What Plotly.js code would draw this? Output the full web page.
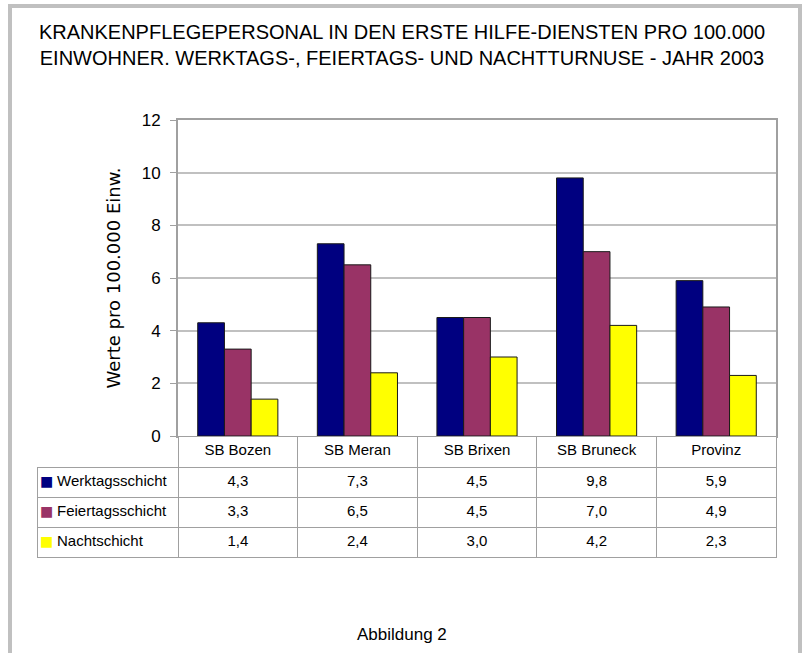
<!DOCTYPE html>
<html>
<head>
<meta charset="utf-8">
<script src="https://cdn.plot.ly/plotly-3.0.1.min.js"></script>
<style>
html,body{margin:0;padding:0;background:#fff;}
#chart{width:804px;height:653px;}
</style>
</head>
<body>
<div id="chart"></div>
<script>
// ---- data ----
var categories = ["SB Bozen", "SB Meran", "SB Brixen", "SB Bruneck", "Provinz"];
var seriesNames = ["Werktagsschicht", "Feiertagsschicht", "Nachtschicht"];
var werktag = [4.3, 7.3, 4.5, 9.8, 5.9];
var feiertag = [3.3, 6.5, 4.5, 7.0, 4.9];
var nacht = [1.4, 2.4, 3.0, 4.2, 2.3];
var yTicks = [0, 2, 4, 6, 8, 10, 12];

var colors = ["#000080", "#993366", "#FFFF00"];
var seriesValues = [werktag, feiertag, nacht];

var W = 804, H = 653;
var plotL = 178, plotR = 776, plotT = 120, plotB = 436;
var tableL = 37, tableB = 562, textL = 49;
var fontMain = "Liberation Sans, Arial, sans-serif";
var NB = "\u00A0";
var CLEAR = "rgba(0,0,0,0)";
var GRID = "#a0a0a0";

var traces = seriesNames.map(function (name, i) {
  return {
    type: "bar",
    name: name,
    x: categories,
    y: seriesValues[i],
    marker: { color: colors[i], line: { color: "#1a1a1a", width: 1 } },
    hoverinfo: "x+y+name",
    xaxis: "x",
    yaxis: "y"
  };
});

function fmt(v) { return v.toFixed(1).replace(".", ","); }

var cellCols = [seriesNames.slice()];
categories.forEach(function (c, j) {
  cellCols.push(seriesValues.map(function (s) { return fmt(s[j]); }));
});
var headerVals = [""].concat(categories.map(function (c) { return c.replace(/ /g, NB); }));
var catW = (plotR - plotL) / categories.length;
var tableDomY = [(H - tableB) / H, (H - plotB) / H];

// frame of the legend column
traces.push({
  type: "table",
  domain: { x: [tableL / W, plotL / W], y: tableDomY },
  columnwidth: [plotL - tableL],
  header: { values: [""], height: 31, fill: { color: CLEAR }, line: { color: CLEAR } },
  cells: {
    values: [seriesNames.map(function () { return ""; })],
    height: 30,
    fill: { color: "#ffffff" },
    line: { color: GRID, width: 1 }
  }
});

// data table (legend names + values)
traces.push({
  type: "table",
  domain: { x: [textL / W, plotR / W], y: tableDomY },
  columnwidth: [plotL - textL].concat(categories.map(function () { return catW; })),
  header: {
    values: headerVals,
    height: 31,
    align: "center",
    fill: { color: [CLEAR].concat(categories.map(function () { return "#ffffff"; })) },
    line: { color: [CLEAR].concat(categories.map(function () { return GRID; })), width: 1 },
    font: { family: fontMain, size: 15, color: "#000" }
  },
  cells: {
    values: cellCols,
    height: 30,
    align: ["left", "center", "center", "center", "center", "center"],
    fill: { color: [CLEAR].concat(categories.map(function () { return "#ffffff"; })) },
    line: { color: [CLEAR].concat(categories.map(function () { return GRID; })), width: 1 },
    font: { family: fontMain, size: 15, color: "#000" }
  }
});

// colour keys in the legend column
traces.push({
  type: "table",
  domain: { x: [(tableL - 5) / W, (tableL + 18) / W], y: tableDomY },
  columnwidth: [23],
  header: { values: [""], height: 31, fill: { color: CLEAR }, line: { color: CLEAR } },
  cells: {
    values: [seriesNames.map(function () { return "■"; })],
    height: 30,
    align: "left",
    fill: { color: CLEAR },
    line: { color: CLEAR },
    font: { family: "DejaVu Sans, sans-serif", size: 14, color: [colors] }
  }
});

var layout = {
  width: W,
  height: H,
  margin: { l: 0, r: 0, t: 0, b: 0 },
  paper_bgcolor: "#ffffff",
  plot_bgcolor: "#ffffff",
  showlegend: false,
  barmode: "group",
  bargap: 0.33,
  bargroupgap: 0,
  title: {
    text: "KRANKENPFLEGEPERSONAL IN DEN ERSTE HILFE-DIENSTEN PRO 100.000<br>EINWOHNER. WERKTAGS-, FEIERTAGS- UND NACHTTURNUSE - JAHR 2003",
    font: { family: fontMain, size: 20, color: "#000" },
    x: 0.5, xanchor: "center",
    yref: "container", y: 1 - 39 / H, yanchor: "middle"
  },
  xaxis: {
    domain: [plotL / W, plotR / W],
    type: "category",
    showticklabels: false,
    ticks: "",
    showgrid: false,
    showline: true, mirror: true, linecolor: GRID, linewidth: 2,
    automargin: false,
    fixedrange: true
  },
  yaxis: {
    domain: [(H - plotB) / H, (H - plotT) / H],
    range: [0, 12],
    tickvals: yTicks,
    ticktext: yTicks.map(String),
    ticks: "outside", ticklen: 6, tickcolor: GRID, tickwidth: 1,
    ticklabelstandoff: 6,
    tickfont: { family: fontMain, size: 17, color: "#000" },
    showgrid: true, gridcolor: "#c0c0c0", gridwidth: 2,
    showline: true, mirror: true, linecolor: GRID, linewidth: 2,
    zeroline: false,
    automargin: false,
    title: {
      text: "Werte pro 100.000 Einw.",
      font: { family: "DejaVu Sans, sans-serif", size: 18, color: "#000" },
      standoff: 16
    },
    fixedrange: true
  },
  shapes: [{
    type: "rect", xref: "paper", yref: "paper", layer: "below",
    x0: 10 / W, x1: 800 / W, y0: -0.05, y1: 1 - 6 / H,
    line: { color: "#c0c0c0", width: 4 }
  }],
  annotations: [{
    text: "Abbildung 2",
    xref: "paper", yref: "paper", x: 0.5, y: (H - 634) / H,
    xanchor: "center", yanchor: "middle", showarrow: false,
    font: { family: fontMain, size: 17, color: "#000" }
  }]
};

Plotly.newPlot("chart", traces, layout, { displayModeBar: false, staticPlot: true });
</script>
</body>
</html>
